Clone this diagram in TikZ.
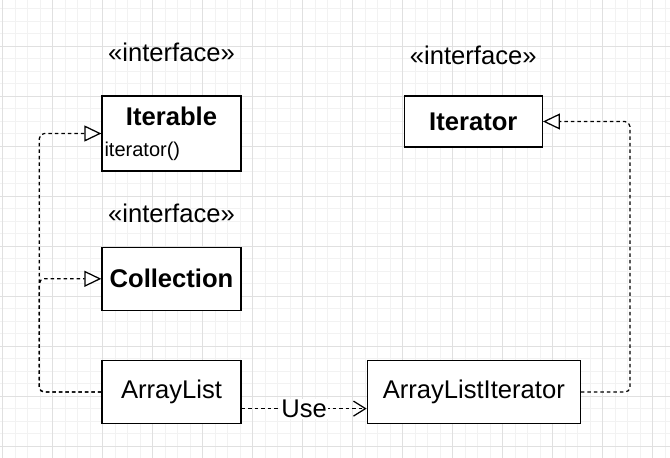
\documentclass[tikz,border=0pt]{standalone}
\usepackage{fontspec}
\setmainfont{Liberation Sans}
\usetikzlibrary{positioning, arrows.meta}

\begin{document}
\begin{tikzpicture}[
  x=1pt, y=-1pt,
  font=\fontsize{25.6}{30}\selectfont,
  cls/.style={draw, line width=1.3pt, fill=white, inner sep=0pt,
              minimum width=139pt},
  stereo/.style={inner sep=0pt, anchor=base},
  realize/.style={-{Triangle[open, length=17pt, width=16pt, fill=white]},
                  line width=1.25pt, dash pattern=on 3.5pt off 3pt,
                  rounded corners=5pt},
  uses/.style={-{Straight Barb[length=12pt, width=15pt]}, line width=1.25pt,
               dash pattern=on 3.5pt off 3pt},
]
\useasboundingbox (0,0) rectangle (670,458);
\fill[white] (0,0) rectangle (670,458);
% ---- background grid ----
\foreach \gx in {0,...,53}
  \draw[black!5, line width=0.8pt] (2.5+12.5*\gx,0) -- (2.5+12.5*\gx,458);
\foreach \gy in {0,...,35}
  \draw[black!5, line width=0.8pt] (0,8.5+12.5*\gy) -- (670,8.5+12.5*\gy);
\foreach \gx in {0,...,13}
  \draw[black!12, line width=0.8pt] (2.5+50*\gx,0) -- (2.5+50*\gx,458);
\foreach \gy in {0,...,8}
  \draw[black!12, line width=0.8pt] (0,46+50*\gy) -- (670,46+50*\gy);
% ---- interfaces ----
\node[cls, minimum height=75pt] (iterable) at (171.5,133.5) {};
\node[font=\fontsize{25.6}{30}\selectfont\bfseries]
  (iterabletitle) at ([yshift=-21pt]iterable.north) {Iterable};
\node[font=\fontsize{20}{24}\selectfont, anchor=west, inner sep=0pt]
  (iterablemeth) at ([xshift=3pt, yshift=-56pt]iterable.north west) {iterator()};
\node[cls, minimum height=63pt, below=75pt of iterable,
      font=\fontsize{25.6}{30}\selectfont\bfseries] (collection) {Collection};
\node[cls, minimum height=51pt, right=162pt of iterable.north east,
      anchor=north west, minimum width=138pt,
      font=\fontsize{25.6}{30}\selectfont\bfseries] (iterator) {Iterator};
% ---- classes ----
\node[cls, minimum height=63pt, below=49pt of collection] (arraylist) {ArrayList};
\node[cls, minimum height=63pt, minimum width=213pt, right=125pt of arraylist]
  (alit) {ArrayListIterator};
% ---- stereotypes ----
\node[stereo, above=33pt of iterable.north] (sterable) {«interface»};
\node[stereo, above=24pt of collection.north] (stercoll) {«interface»};
\node[stereo, above=30pt of iterator.north] (sterator) {«interface»};
% ---- connectors ----
\draw[realize] (arraylist.west) -- ++(-62pt,0) |- (iterable.west);
\draw[realize] (arraylist.west) -- ++(-62pt,0) |- (collection.west);
\draw[realize] (alit.east) -- ++(49pt,0) |- (iterator.east);
\draw[uses] ([yshift=-16.5pt]arraylist.east) -- ([yshift=-16.5pt]alit.west)
  node[midway, fill=white, inner sep=1pt, font=\fontsize{25.6}{30}\selectfont]
  (uselabel) {Use};
\end{tikzpicture}
\end{document}
